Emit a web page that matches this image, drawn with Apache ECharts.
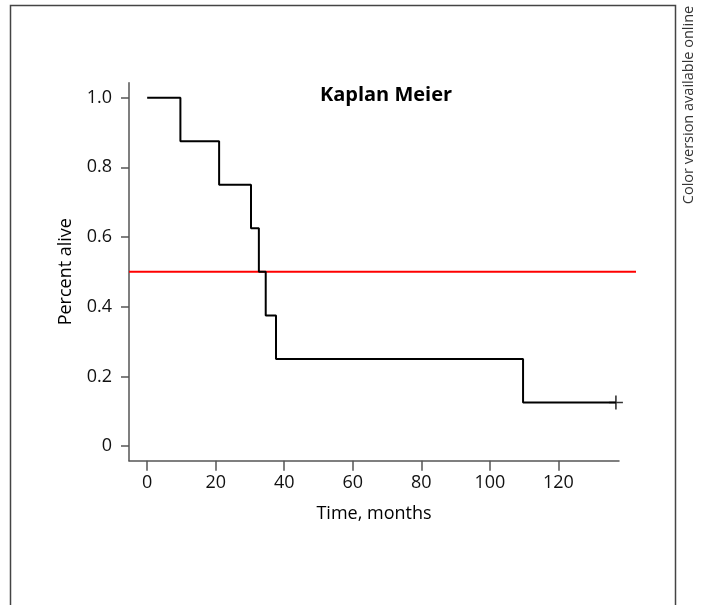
<!DOCTYPE html>
<html>
<head>
<meta charset="utf-8">
<script src="https://cdn.jsdelivr.net/npm/echarts@6/dist/echarts.min.js"></script>
<style>
html,body{margin:0;padding:0;background:#fff;}
#main{width:701px;height:605px;}
</style>
</head>
<body>
<div id="main"></div>
<script>
// Data
const times = [0, 9.7, 21, 30.3, 32.6, 34.6, 37.6, 109.7, 136.8];
const survival = [1, 0.875, 0.75, 0.625, 0.5, 0.375, 0.25, 0.125, 0.125];
const censorTimes = [136.8];
const censorValues = [0.125];
const medianLevel = 0.5;
const medianExtent = [-5.3, 142.7];
const xTicks = [0, 20, 40, 60, 80, 100, 120];
const yTicks = [0, 0.2, 0.4, 0.6, 0.8, 1.0];
const titleText = 'Kaplan Meier';
const xName = 'Time, months';
const yName = 'Percent alive';
const sideNote = 'Color version available online';

const FONT = "'Open Sans', 'Noto Sans', sans-serif";
const chart = echarts.init(document.getElementById('main'), null, {renderer: 'canvas'});

const kmData = times.map((t, i) => [t, survival[i]]);
const censorData = censorTimes.map((t, i) => [t, censorValues[i]]);
const medianData = medianExtent.map(t => [t, medianLevel]);

const X_MIN = -5.3, X_MAX = 137.7, Y_MIN = -0.042, Y_MAX = 1.043;

chart.setOption({
  animation: false,
  backgroundColor: '#fff',
  title: {
    text: titleText,
    left: 381, top: 80, textAlign: 'center',
    textStyle: {fontFamily: FONT, fontSize: 20, fontWeight: 'bold', color: '#000'}
  },
  grid: [
    {left: 129, right: 82, top: 82.7, bottom: 144.3, containLabel: false},
    // wider overlay grid with the same scale so the median line may run past the axis end
    {left: 129, right: 65, top: 82.7, bottom: 144.3, containLabel: false}
  ],
  xAxis: [{
    type: 'value', min: X_MIN, max: X_MAX, gridIndex: 0,
    name: xName, nameLocation: 'middle', nameGap: 44,
    nameTextStyle: {fontFamily: FONT, fontSize: 18, color: '#000'},
    axisLine: {show: true, onZero: false, lineStyle: {color: '#555', width: 1.5}},
    axisTick: {show: true, length: 10, customValues: xTicks, lineStyle: {color: '#555', width: 1.5}},
    axisLabel: {customValues: xTicks, margin: 13, fontFamily: FONT, fontSize: 18, color: '#111'},
    splitLine: {show: false}
  }, {
    type: 'value', min: medianExtent[0], max: medianExtent[1], gridIndex: 1, show: false,
    splitLine: {show: false}
  }],
  yAxis: [{
    type: 'value', min: Y_MIN, max: Y_MAX, gridIndex: 0,
    name: yName, nameLocation: 'middle', nameGap: 54, nameRotate: 90,
    nameTextStyle: {fontFamily: FONT, fontSize: 18, color: '#000'},
    axisLine: {show: true, onZero: false, lineStyle: {color: '#555', width: 1.5}},
    axisTick: {show: true, length: 8, customValues: yTicks, lineStyle: {color: '#555', width: 1.5}},
    axisLabel: {customValues: yTicks, margin: 17, fontFamily: FONT, fontSize: 18, color: '#111',
      formatter: v => (Math.abs(v) < 1e-9 ? '0' : v.toFixed(1))},
    splitLine: {show: false}
  }, {
    type: 'value', min: Y_MIN, max: Y_MAX, gridIndex: 1, show: false,
    splitLine: {show: false}
  }],
  series: [
    {
      type: 'line', data: medianData, symbol: 'none', xAxisIndex: 1, yAxisIndex: 1,
      lineStyle: {color: '#ff0000', width: 2}, z: 3
    },
    {
      type: 'line', data: kmData, step: 'end', symbol: 'none',
      lineStyle: {color: '#000', width: 2}, z: 4
    },
    {
      type: 'scatter', data: censorData,
      symbol: 'path://M6.2,0h1.6v14h-1.6z M0,6.2h14v1.6h-14z', symbolSize: 14,
      itemStyle: {color: '#000'}, z: 5
    }
  ],
  graphic: [
    {
      type: 'rect', silent: true,
      shape: {x: 10.5, y: 5.5, width: 665, height: 640},
      style: {fill: 'none', stroke: '#444', lineWidth: 1.5}
    },
    {
      type: 'text', silent: true,
      x: 689, y: 105, rotation: Math.PI / 2,
      style: {text: sideNote, fontFamily: FONT, fontSize: 14.5, fill: '#333',
        align: 'center', verticalAlign: 'middle'}
    }
  ]
});
</script>
</body>
</html>
